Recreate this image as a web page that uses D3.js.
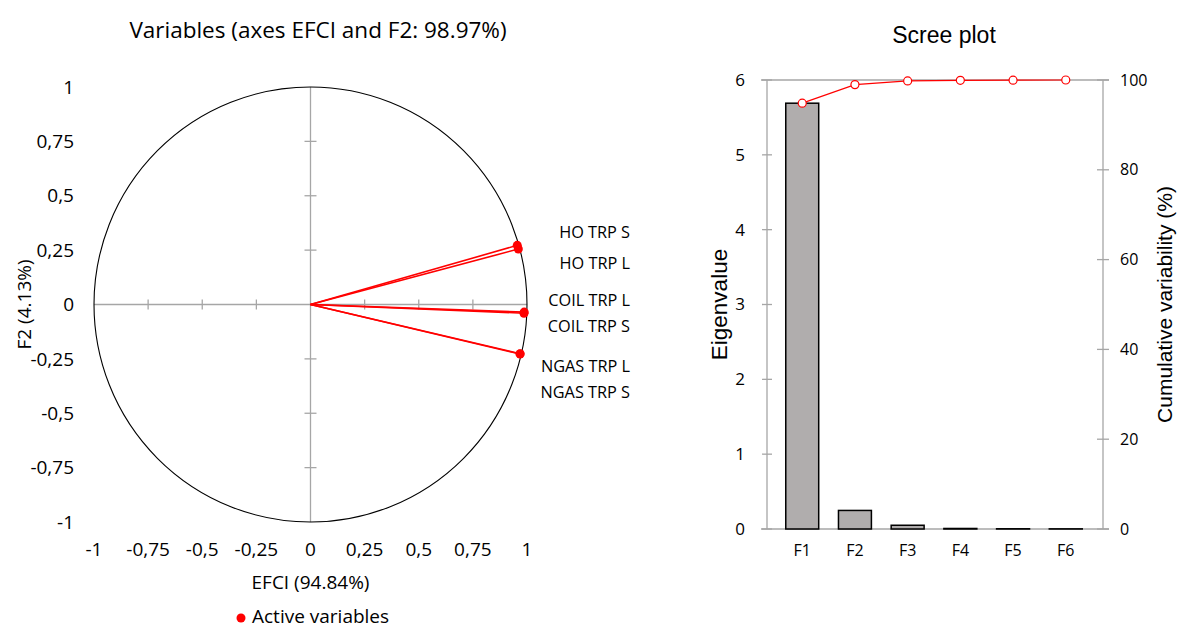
<!DOCTYPE html>
<html>
<head>
<meta charset="utf-8">
<script src="https://cdn.jsdelivr.net/npm/d3@7"></script>
<style>
  body { margin: 0; background: #fff; }
  svg { display: block; }
</style>
</head>
<body>
<div class="chart"></div>
<script>
// correlation circle data
var varNames = ["HO TRP S", "HO TRP L", "COIL TRP L", "COIL TRP S", "NGAS TRP L", "NGAS TRP S"];
var varF1 = [0.955, 0.960, 0.987, 0.986, 0.968, 0.968];
var varF2 = [0.272, 0.255, -0.035, -0.040, -0.226, -0.228];
var circleTicks = [-1, -0.75, -0.5, -0.25, 0, 0.25, 0.5, 0.75, 1];

// scree plot data
var factors = ["F1", "F2", "F3", "F4", "F5", "F6"];
var eigenvalues = [5.690, 0.248, 0.050, 0.007, 0.003, 0.002];
var cumulative = [94.84, 98.97, 99.80, 99.92, 99.97, 100];
var eigenTicks = [0, 1, 2, 3, 4, 5, 6];
var cumTicks = [0, 20, 40, 60, 80, 100];

var width = 1179, height = 628;
var sans = "'Open Sans', sans-serif";
var arial = "'Liberation Sans', Arial, sans-serif";
var axisGray = "#a6a6a6";

var svg = d3.select(".chart").append("svg")
	.attr("width", width)
	.attr("height", height);

// ---- Correlation circle ----
var x = d3.scaleLinear().domain([-1, 1]).range([94, 527]);
var y = d3.scaleLinear().domain([-1, 1]).range([522, 87]);
var fmt = function(d) { return String(d).replace(".", ","); };

var left = svg.append("g");

left.append("text")
	.attr("x", 318).attr("y", 38)
	.attr("text-anchor", "middle")
	.attr("font-family", sans)
	.attr("font-size", 22.5)
	.text("Variables (axes EFCI and F2: 98.97%)");

// axes through origin
left.append("line")
	.attr("x1", x(-1)).attr("x2", x(1))
	.attr("y1", y(0)).attr("y2", y(0))
	.attr("stroke", axisGray).attr("stroke-width", 1.3);
left.append("line")
	.attr("x1", x(0)).attr("x2", x(0))
	.attr("y1", y(-1)).attr("y2", y(1))
	.attr("stroke", axisGray).attr("stroke-width", 1.3);

var inner = circleTicks.filter(function(d) { return d !== 0 && Math.abs(d) !== 1; });
left.selectAll(".htick").data(inner).enter().append("line")
	.attr("x1", function(d) { return x(d); }).attr("x2", function(d) { return x(d); })
	.attr("y1", y(0) - 5).attr("y2", y(0) + 5)
	.attr("stroke", axisGray).attr("stroke-width", 1.3);
left.selectAll(".vtick").data(inner).enter().append("line")
	.attr("x1", x(0) - 6).attr("x2", x(0) + 6)
	.attr("y1", function(d) { return y(d); }).attr("y2", function(d) { return y(d); })
	.attr("stroke", axisGray).attr("stroke-width", 1.3);

// unit circle
left.append("ellipse")
	.attr("cx", x(0)).attr("cy", y(0))
	.attr("rx", x(1) - x(0)).attr("ry", y(0) - y(1))
	.attr("fill", "none").attr("stroke", "#000").attr("stroke-width", 1.1);

// tick labels
left.selectAll(".ylab").data(circleTicks).enter().append("text")
	.attr("x", 74).attr("y", function(d) { return y(d); })
	.attr("dy", "0.35em")
	.attr("text-anchor", "end")
	.attr("font-family", sans).attr("font-size", 19)
	.text(fmt);
left.selectAll(".xlab").data(circleTicks).enter().append("text")
	.attr("x", function(d) { return x(d); }).attr("y", 556)
	.attr("text-anchor", "middle")
	.attr("font-family", sans).attr("font-size", 19)
	.text(fmt);

left.append("text")
	.attr("x", x(0)).attr("y", 589)
	.attr("text-anchor", "middle")
	.attr("font-family", sans).attr("font-size", 19)
	.text("EFCI (94.84%)");
left.append("text")
	.attr("transform", "translate(31," + y(0) + ") rotate(-90)")
	.attr("text-anchor", "middle")
	.attr("font-family", sans).attr("font-size", 19)
	.text("F2 (4.13%)");

// vectors
var vars = varNames.map(function(n, i) { return { name: n, f1: varF1[i], f2: varF2[i] }; });
left.selectAll(".vec").data(vars).enter().append("line")
	.attr("x1", x(0)).attr("y1", y(0))
	.attr("x2", function(d) { return x(d.f1); })
	.attr("y2", function(d) { return y(d.f2); })
	.attr("stroke", "#ff0000").attr("stroke-width", 1.6);
left.selectAll(".pt").data(vars).enter().append("circle")
	.attr("cx", function(d) { return x(d.f1); })
	.attr("cy", function(d) { return y(d.f2); })
	.attr("r", 4.5).attr("fill", "#ff0000");

// labels are nudged apart like the original so they don't overlap
var labelDy = [-13, 14, -12, 13, 13, 38];
left.selectAll(".vlab").data(vars).enter().append("text")
	.attr("x", 630)
	.attr("y", function(d, i) { return y(d.f2) + labelDy[i]; })
	.attr("dy", "0.35em")
	.attr("text-anchor", "end")
	.attr("font-family", sans).attr("font-size", 16.3)
	.text(function(d) { return d.name; });

// legend
left.append("circle").attr("cx", 241).attr("cy", 618).attr("r", 4.5).attr("fill", "#ff0000");
left.append("text")
	.attr("x", 252).attr("y", 623)
	.attr("font-family", sans).attr("font-size", 19)
	.text("Active variables");

// ---- Scree plot ----
var bx = d3.scaleBand().domain(factors).range([766, 1102]).padding(0.375);
var by = d3.scaleLinear().domain([0, 6]).range([529, 80]);
var cy = d3.scaleLinear().domain([0, 100]).range([529, 80]);

var right = svg.append("g");

right.append("text")
	.attr("x", 944).attr("y", 43)
	.attr("text-anchor", "middle")
	.attr("font-family", arial).attr("font-size", 23)
	.text("Scree plot");

// top and bottom lines
[0, 6].forEach(function(v) {
	right.append("line")
		.attr("x1", 761).attr("x2", 1109)
		.attr("y1", by(v)).attr("y2", by(v))
		.attr("stroke", axisGray).attr("stroke-width", 1.3);
});
// side axes
right.append("line").attr("x1", 767).attr("x2", 767).attr("y1", by(0)).attr("y2", by(6))
	.attr("stroke", axisGray).attr("stroke-width", 1.3);
right.append("line").attr("x1", 1103).attr("x2", 1103).attr("y1", cy(0)).attr("y2", cy(100))
	.attr("stroke", axisGray).attr("stroke-width", 1.3);
right.selectAll(".ltick").data(eigenTicks).enter().append("line")
	.attr("x1", 762).attr("x2", 772)
	.attr("y1", function(d) { return by(d); }).attr("y2", function(d) { return by(d); })
	.attr("stroke", axisGray).attr("stroke-width", 1.3);
right.selectAll(".rtick").data(cumTicks).enter().append("line")
	.attr("x1", 1097).attr("x2", 1109)
	.attr("y1", function(d) { return cy(d); }).attr("y2", function(d) { return cy(d); })
	.attr("stroke", axisGray).attr("stroke-width", 1.3);

right.selectAll(".llab").data(eigenTicks).enter().append("text")
	.attr("x", 745).attr("y", function(d) { return by(d); })
	.attr("dy", "0.35em").attr("text-anchor", "end")
	.attr("font-family", sans).attr("font-size", 17)
	.text(function(d) { return d; });
right.selectAll(".rlab").data(cumTicks).enter().append("text")
	.attr("x", 1120).attr("y", function(d) { return cy(d); })
	.attr("dy", "0.35em").attr("text-anchor", "start")
	.attr("font-family", sans).attr("font-size", 16)
	.text(function(d) { return d; });

right.append("text")
	.attr("transform", "translate(727," + by(3) + ") rotate(-90)")
	.attr("text-anchor", "middle")
	.attr("font-family", arial).attr("font-size", 22.5)
	.text("Eigenvalue");
right.append("text")
	.attr("transform", "translate(1172," + by(3) + ") rotate(-90)")
	.attr("text-anchor", "middle")
	.attr("font-family", arial).attr("font-size", 21)
	.text("Cumulative variability (%)");

// bars
right.selectAll(".bar").data(eigenvalues).enter().append("rect")
	.attr("x", function(d, i) { return bx(factors[i]); })
	.attr("width", bx.bandwidth())
	.attr("y", function(d) { return by(d); })
	.attr("height", function(d) { return by(0) - by(d); })
	.attr("fill", "#b0adad").attr("stroke", "#000").attr("stroke-width", 1.5);

right.selectAll(".flab").data(factors).enter().append("text")
	.attr("x", function(d) { return bx(d) + bx.bandwidth() / 2; })
	.attr("y", 556)
	.attr("text-anchor", "middle")
	.attr("font-family", sans).attr("font-size", 16)
	.text(function(d) { return d; });

// cumulative line
var line = d3.line()
	.x(function(d, i) { return bx(factors[i]) + bx.bandwidth() / 2; })
	.y(function(d) { return cy(d); });
right.append("path").datum(cumulative)
	.attr("d", line)
	.attr("fill", "none").attr("stroke", "#ff0000").attr("stroke-width", 1.2);
right.selectAll(".cpt").data(cumulative).enter().append("circle")
	.attr("cx", function(d, i) { return bx(factors[i]) + bx.bandwidth() / 2; })
	.attr("cy", function(d) { return cy(d); })
	.attr("r", 4).attr("fill", "#fff").attr("stroke", "#ff0000").attr("stroke-width", 1.2);
</script>
</body>
</html>
